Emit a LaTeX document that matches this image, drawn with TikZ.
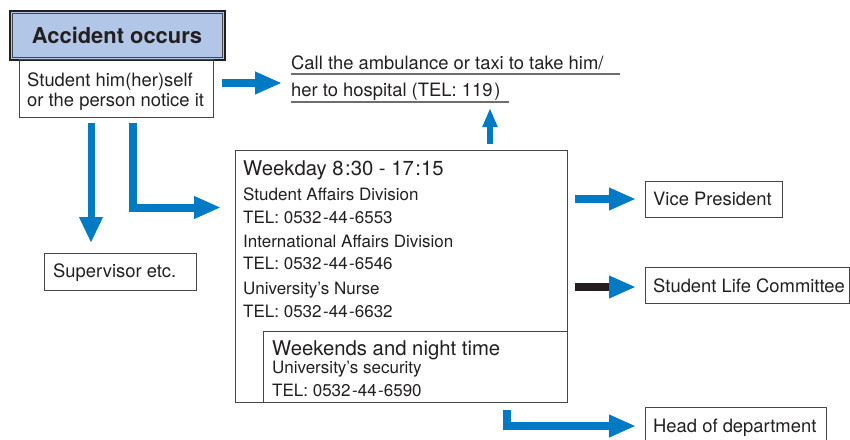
\documentclass[tikz,border=0pt]{standalone}
\usepackage{fontspec}
\setmainfont{TeX Gyre Heros}
\usetikzlibrary{arrows.meta,calc}
\definecolor{arrowblue}{RGB}{0,122,194}
\definecolor{titlefill}{RGB}{178,199,232}
\definecolor{ink}{RGB}{35,31,32}
\definecolor{frame}{RGB}{70,70,70}
\definecolor{rule}{RGB}{110,110,110}
\newcommand{\hy}{\kern1.5pt-}
\begin{document}
\begin{tikzpicture}[x=1pt,y=-1pt,
  box/.style={draw=frame, line width=0.8pt, inner sep=0pt, anchor=north west},
  txt/.style={inner sep=0pt, anchor=base west, text=ink, font=\fontsize{18.4}{22}\selectfont},
  smalltxt/.style={txt, font=\fontsize{17}{20}\selectfont},
  headtxt/.style={txt, font=\fontsize{20.3}{24}\selectfont},
  uline/.style={draw=rule, line width=1.1pt},
  fat/.style={draw=arrowblue, line width=8pt, line join=miter, -{Triangle[length=27pt,width=21pt]}},
  slim/.style={draw=arrowblue, line width=6pt, -{Triangle[length=19pt,width=14pt]}},
  blackshaft/.style={draw=ink, line width=8pt}
]
\useasboundingbox (0,0) rectangle (850,439);
\clip (0,0) rectangle (850,439);

% title
\node[box, draw=ink, line width=1.8pt, fill=titlefill, minimum width=215pt, minimum height=49pt] (title) at (9,10) {};
\draw[frame, line width=0.7pt] ($(title.north west)+(3,3)$) rectangle ($(title.south east)+(-3,-3)$);
\node[inner sep=0pt, anchor=base, text=ink, font=\bfseries\fontsize{21.9}{26}\selectfont] (titletxt) at (117,43) {Accident occurs};

% student box
\node[box, minimum width=194pt, minimum height=58pt] (stud) at (19,59) {};
\node[txt] (stud1) at (27,86) {Student him(her)self};
\node[txt] (stud2) at (27,106) {or the person notice it};

% ambulance
\node[txt] (amb1) at (291,69) {Call the ambulance or taxi to take him/};
\node[txt] (amb2) at (291,96) {her to hospital (TEL: 119\kern2pt)};
\draw[uline] (291,74) -- (620,74);
\draw[uline] (291,102) -- (509,102);

% supervisor
\node[box, minimum width=152pt, minimum height=37pt] (sup) at (44,253) {};
\node[txt] (suptxt) at (53,277) {Supervisor etc.};

% weekday box
\node[box, minimum width=332pt, minimum height=252pt] (wk) at (235,150) {};
\node[headtxt] (wk0) at (243,175) {Weekday 8\kern1.5pt:30 - 17\kern1.5pt:15};
\node[smalltxt] (wk1) at (243,200) {Student Affairs Division};
\node[smalltxt] (wk2) at (243,223) {TEL: 0532\hy44\hy6553};
\node[smalltxt] (wk3) at (243,247) {International Affairs Division};
\node[smalltxt] (wk4) at (243,269) {TEL: 0532\hy44\hy6546};
\node[smalltxt] (wk5) at (243,294) {University’s Nurse};
\node[smalltxt] (wk6) at (243,317) {TEL: 0532\hy44\hy6632};

% weekends inner box
\node[box, minimum width=304pt, minimum height=71pt] (we) at (263,331) {};
\node[headtxt] (we0) at (272,355) {Weekends and night time};
\node[smalltxt] (we1) at (272,373) {University’s security};
\node[smalltxt] (we2) at (272,396) {TEL: 0532\hy44\hy6590};

% right boxes
\node[box, minimum width=137pt, minimum height=36pt] (vp) at (645,181) {};
\node[txt] (vptxt) at (653,205) {Vice President};
\node[box, minimum width=204pt, minimum height=36pt] (slc) at (645,267) {};
\node[txt] (slctxt) at (653,292) {Student Life Committee};
\node[box, minimum width=181pt, minimum height=50pt] (hod) at (645,407) {};
\node[txt] (hodtxt) at (653,432) {Head of department};

% connector end points
\coordinate (a1s) at (222,83);  \coordinate (a1e) at (282,83);
\coordinate (a2s) at (91,123);  \coordinate (a2e) at (91,243);
\coordinate (a3s) at (133,123); \coordinate (a3c) at (133,207.5); \coordinate (a3e) at (221,207.5);
\coordinate (a4s) at (490,144); \coordinate (a4e) at (490,108);
\coordinate (a5s) at (575,199); \coordinate (a5e) at (636,199);
\coordinate (a6s) at (575,287); \coordinate (a6m) at (608.5,287); \coordinate (a6h) at (598,287); \coordinate (a6e) at (636,287);
\coordinate (a7s) at (507,410); \coordinate (a7c) at (507,426); \coordinate (a7e) at (636,426);

% arrows
\draw[fat] (a1s) -- (a1e);
\draw[fat, -{Triangle[length=26pt,width=22pt]}, line width=7pt] (a2s) -- (a2e);
\draw[fat] (a3s) -- (a3c) -- (a3e);
\draw[slim] (a4s) -- (a4e);
\draw[fat] (a5s) -- (a5e);
\draw[fat] (a6h) -- (a6e);
\draw[blackshaft] (a6s) -- (a6m);
\draw[fat] (a7s) -- (a7c) -- (a7e);
\end{tikzpicture}
\end{document}
